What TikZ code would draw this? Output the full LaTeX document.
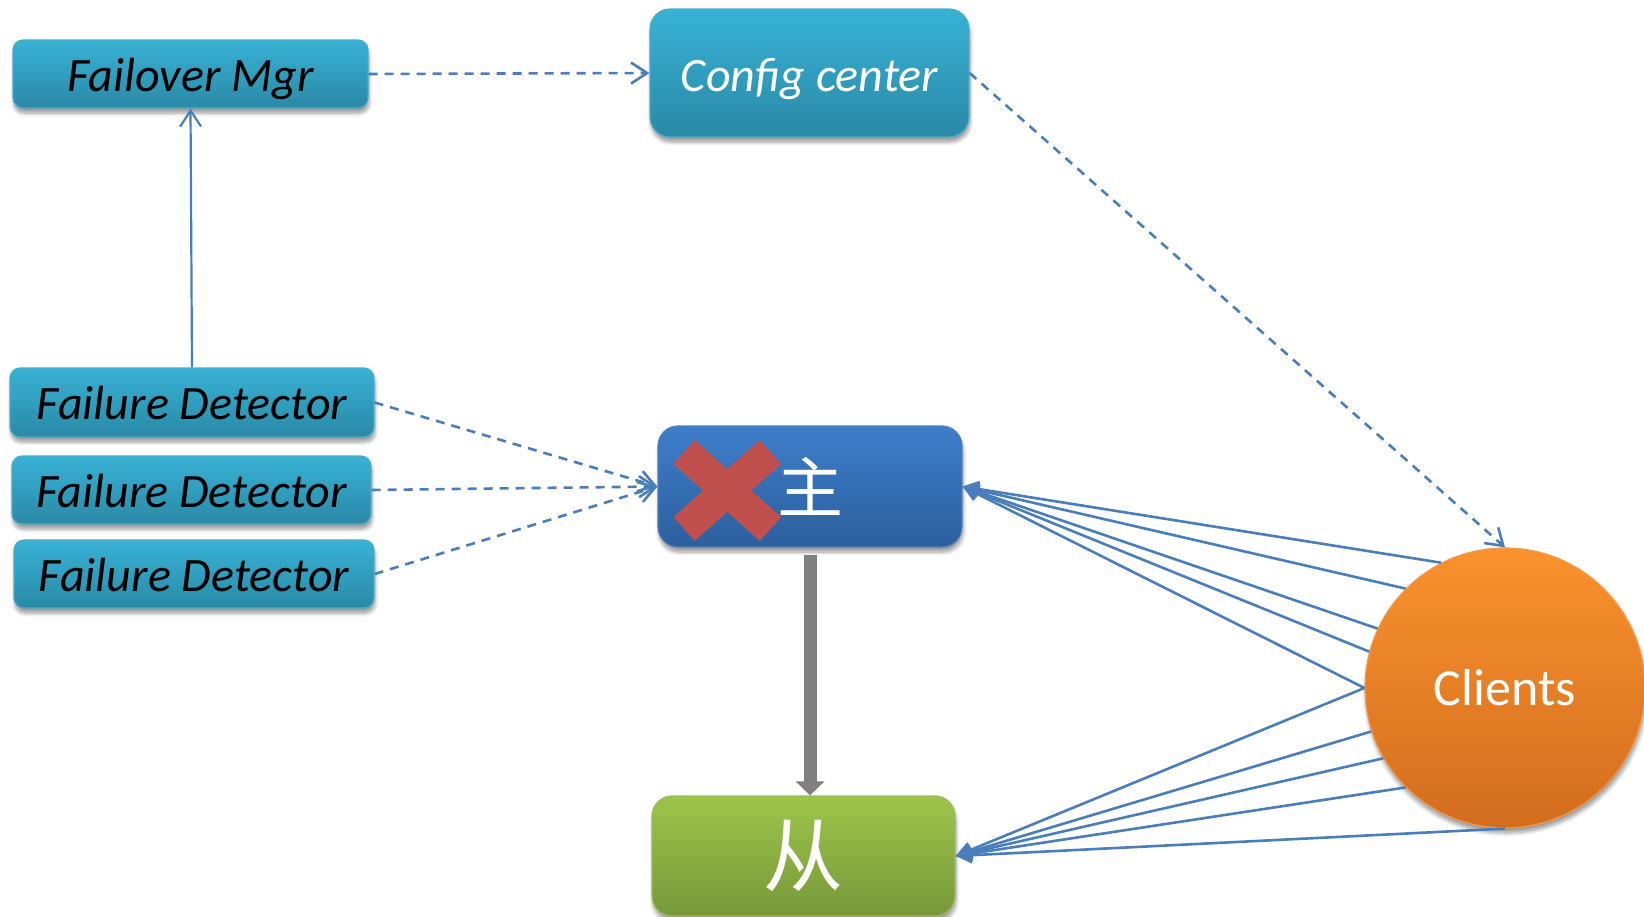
\documentclass[tikz,border=0pt]{standalone}
\usepackage{fontspec}
\setmainfont{Carlito}
\newfontfamily\cjk{Noto Sans CJK SC}
\usetikzlibrary{arrows.meta,shapes.geometric,shadows.blur}

\definecolor{tealtop}{RGB}{56,178,214}
\definecolor{tealbot}{RGB}{42,137,166}
\definecolor{tealedge}{RGB}{75,172,198}
\definecolor{mastertop}{RGB}{61,126,202}
\definecolor{masterbot}{RGB}{45,95,158}
\definecolor{masteredge}{RGB}{79,129,189}
\definecolor{slavetop}{RGB}{157,197,74}
\definecolor{slavebot}{RGB}{119,152,58}
\definecolor{slaveedge}{RGB}{155,187,89}
\definecolor{clienttop}{RGB}{250,146,45}
\definecolor{clientbot}{RGB}{210,109,31}
\definecolor{clientedge}{RGB}{247,150,70}
\definecolor{linkblue}{RGB}{74,126,187}
\definecolor{crossred}{RGB}{192,80,77}
\definecolor{copygray}{RGB}{128,128,128}

\begin{document}
\begin{tikzpicture}[x=0.5pt,y=-0.5pt,
  softshadow/.style={blur shadow={shadow xshift=0.5pt,shadow yshift=-2.5pt,
      shadow blur steps=6,shadow opacity=40}},
  tealbox/.style={rectangle, rounded corners=5pt, draw=tealedge, line width=0.6pt,
      top color=tealtop, bottom color=tealbot, inner sep=0pt, softshadow,
      text height=17pt, text depth=0pt,
      font=\fontsize{24}{28}\selectfont\itshape},
  dlink/.style={draw=linkblue, line width=1.3pt, dash pattern=on 4.5pt off 3.5pt,
      -{Straight Barb[length=8pt,width=10.5pt,line width=1.3pt]}},
  slink/.style={draw=linkblue, line width=1.1pt,
      -{Straight Barb[length=8pt,width=10.5pt,line width=1.1pt]}},
  clink/.style={draw=linkblue, line width=1.3pt,
      -{Triangle[length=8pt,width=8pt]}}
]
\useasboundingbox (0,0) rectangle (1644,916);

% control side
\node[tealbox, minimum width=177.5pt, minimum height=34pt] (fmgr) at (190.5,74) {Failover Mgr};
\node[tealbox, rounded corners=10pt, minimum width=159.5pt, minimum height=64pt,
      text=white, text height=18pt] (config) at (809.5,73) {Config center};
\node[tealbox, minimum width=182pt, minimum height=34.5pt] (fd1) at (192,402.5) {Failure Detector};
\node[tealbox, minimum width=179.5pt, minimum height=34pt] (fd2) at (191.5,490) {Failure Detector};
\node[tealbox, minimum width=180pt, minimum height=34pt] (fd3) at (194,574) {Failure Detector};

% data nodes
\node[rectangle, rounded corners=10pt, draw=masteredge, line width=0.6pt,
      top color=mastertop, bottom color=masterbot, softshadow,
      minimum width=152pt, minimum height=60.5pt, inner sep=0pt,
      text=white, font=\cjk\fontsize{33}{36}\selectfont] (master) at (810,486.5) {主};
\node[rectangle, rounded corners=10pt, draw=slaveedge, line width=0.6pt,
      top color=slavetop, bottom color=slavebot, softshadow,
      minimum width=151.5pt, minimum height=60pt, inner sep=0pt,
      text=white, font=\cjk\fontsize{40}{44}\selectfont] (slave) at (803.5,856) {从};
\node[circle, draw=clientedge, line width=0.6pt,
      top color=clienttop, bottom color=clientbot, softshadow,
      minimum size=140pt, inner sep=0pt,
      text=white, font=\fontsize{26}{30}\selectfont] (clients) at (1505,688) {Clients};

% failed master mark
\draw[crossred, line width=16pt] (684,452) -- (770.5,529) (770.5,452) -- (684,529);

% replication
\draw[copygray, line width=6.5pt, -{Triangle[length=7pt,width=14pt]}]
  ([yshift=-3.5pt]master.south) -- (master.south |- slave.north);

% control links
\draw[dlink] (fmgr.east) -- (config.west);
\draw[dlink] (config.east) -- (clients.north);
\draw[dlink] (fd1.east) -- (master.west);
\draw[dlink] (fd2.east) -- (master.west);
\draw[dlink] (fd3.east) -- (master.west);
\draw[slink] (fd1.north) -- (fmgr.south);

% client traffic
\foreach \a in {117,135,155,165,180}
  \draw[clink] (clients.\a) -- (master.east);
\foreach \a in {180,198,210,225,270}
  \draw[clink] (clients.\a) -- (slave.east);
\end{tikzpicture}
\end{document}
